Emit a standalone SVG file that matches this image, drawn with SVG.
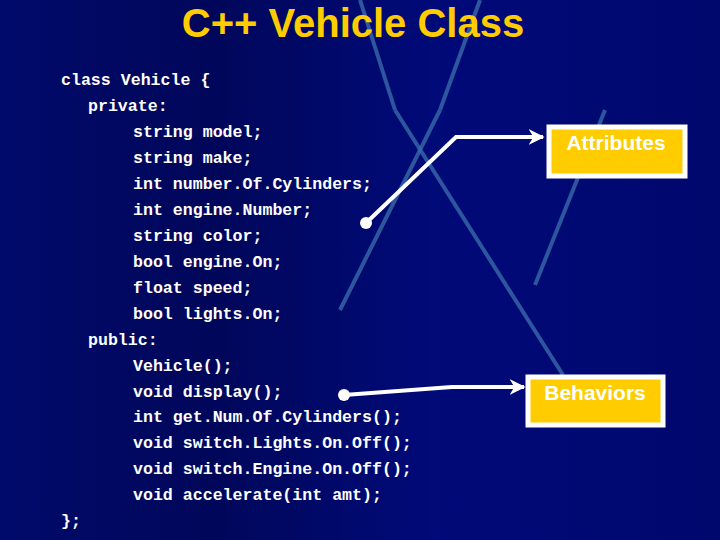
<svg xmlns="http://www.w3.org/2000/svg" width="720" height="540" viewBox="0 0 720 540">
<defs>
<linearGradient id="bg" x1="0" y1="0" x2="1" y2="0">
<stop offset="0" stop-color="#000a6a"/><stop offset="0.3" stop-color="#00075a"/><stop offset="0.6" stop-color="#000a78"/><stop offset="1" stop-color="#00086e"/>
</linearGradient>
<marker id="ah" viewBox="0 0 10 10" refX="9" refY="5" markerWidth="4" markerHeight="4" orient="auto" markerUnits="strokeWidth"><path d="M0,0 L10,5 L0,10 L3,5 z" fill="#fff"/></marker>
<style>
.code{font-family:"Liberation Mono",monospace;font-weight:bold;font-size:16.6px;fill:#fff}
.lbl{font-family:"Liberation Sans",Arial,sans-serif;font-weight:bold;font-size:21px;fill:#fff;text-anchor:middle}
.stripe{stroke:#3a6aaa;stroke-width:4;opacity:0.8}
.conn{stroke:#fff;stroke-width:4;fill:none}
</style>
</defs>
<rect width="720" height="540" fill="url(#bg)"/>
<g id="stripes">
<line class="stripe" x1="395" y1="110" x2="563" y2="375"/>
<line class="stripe" x1="440" y1="110" x2="340" y2="310"/>
<line class="stripe" x1="605" y1="110" x2="535" y2="285"/>
<line class="stripe" x1="360" y1="0" x2="395" y2="110"/>
<line class="stripe" x1="480" y1="0" x2="440" y2="110"/>
</g>
<text x="353" y="37" font-family="Liberation Sans,Arial,sans-serif" font-weight="bold" font-size="40" fill="#ffcc00" text-anchor="middle">C++ Vehicle Class</text>
<g id="code">
<text class="code" x="61" y="85">class Vehicle {</text>
<text class="code" x="88" y="111">private:</text>
<text class="code" x="133" y="137">string model;</text>
<text class="code" x="133" y="163">string make;</text>
<text class="code" x="133" y="189">int number.Of.Cylinders;</text>
<text class="code" x="133" y="215">int engine.Number;</text>
<text class="code" x="133" y="241">string color;</text>
<text class="code" x="133" y="267">bool engine.On;</text>
<text class="code" x="133" y="293">float speed;</text>
<text class="code" x="133" y="319">bool lights.On;</text>
<text class="code" x="88" y="345">public:</text>
<text class="code" x="133" y="371">Vehicle();</text>
<text class="code" x="133" y="397">void display();</text>
<text class="code" x="133" y="422">int get.Num.Of.Cylinders();</text>
<text class="code" x="133" y="448">void switch.Lights.On.Off();</text>
<text class="code" x="133" y="474">void switch.Engine.On.Off();</text>
<text class="code" x="133" y="500">void accelerate(int amt);</text>
<text class="code" x="61" y="526">};</text>
</g>
<g id="connectors">
<polyline class="conn" points="366,223 456,137 543,137" marker-end="url(#ah)"/>
<circle cx="366" cy="223" r="6" fill="#fff"/>
<polyline class="conn" points="344,395 452,387 524,387" marker-end="url(#ah)"/>
<circle cx="344" cy="395" r="6" fill="#fff"/>
</g>
<g id="attributes">
<rect x="549" y="127" width="136" height="49" fill="#ffcc00" stroke="#fff" stroke-width="5"/>
<text class="lbl" x="616" y="150">Attributes</text>
</g>
<g id="behaviors">
<rect x="528" y="377" width="135" height="48" fill="#ffcc00" stroke="#fff" stroke-width="5"/>
<text class="lbl" x="595" y="400">Behaviors</text>
</g>
</svg>
